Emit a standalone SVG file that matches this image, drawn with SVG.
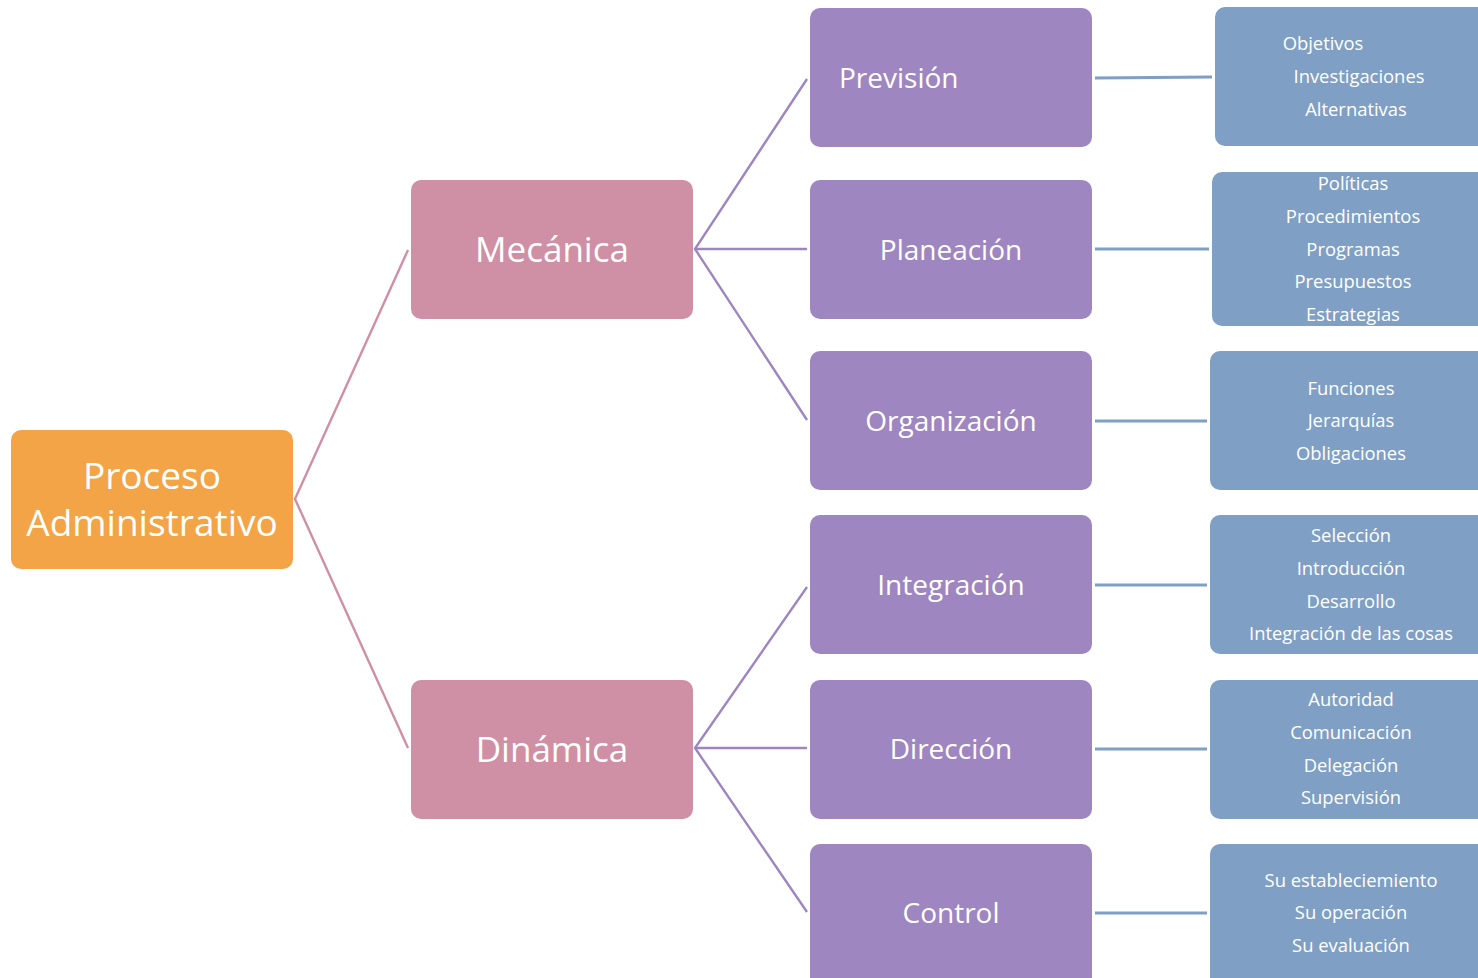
<svg xmlns="http://www.w3.org/2000/svg" width="1478" height="978" viewBox="0 0 1478 978">
  <style>
    .root { fill: #F2A446; }
    .lvl1 { fill: #CF8FA5; }
    .lvl2 { fill: #9E86C1; }
    .lvl3 { fill: #7F9FC4; }
    text { font-family: "Open Sans", "Noto Sans", sans-serif; fill: #FFFFFF; text-anchor: middle; }
    .t0 { font-size: 37px; }
    .t1 { font-size: 35px; }
    .t2 { font-size: 28px; }
    .t3 { font-size: 18.4px; }
    .c-pink { stroke: #CF8FA5; stroke-width: 2.4; fill: none; }
    .c-purple { stroke: #9E86C1; stroke-width: 2.4; fill: none; }
    .c-blue { stroke: #7F9FC4; stroke-width: 3; fill: none; }
  </style>
  <rect width="1478" height="978" fill="#FFFFFF"/>

  <g id="connectors">
    <polyline class="c-pink" points="408,250 295,499 408,748"/>
    <polyline class="c-purple" points="807,79 695,249 807,420"/>
    <line class="c-purple" x1="695" y1="249" x2="807" y2="249"/>
    <polyline class="c-purple" points="807,587 695,748 807,912"/>
    <line class="c-purple" x1="695" y1="748" x2="807" y2="748"/>
    <line class="c-blue" x1="1095" y1="78" x2="1212" y2="77"/>
    <line class="c-blue" x1="1095" y1="249" x2="1209" y2="249"/>
    <line class="c-blue" x1="1095" y1="421" x2="1207" y2="421"/>
    <line class="c-blue" x1="1095" y1="585" x2="1207" y2="585"/>
    <line class="c-blue" x1="1095" y1="749" x2="1207" y2="749"/>
    <line class="c-blue" x1="1095" y1="913" x2="1207" y2="913"/>
  </g>

  <g id="proceso-administrativo">
    <rect class="root" x="11" y="430" width="282" height="139" rx="10"/>
    <text class="t0" x="152" y="489">Proceso</text>
    <text class="t0" x="152" y="536">Administrativo</text>
  </g>

  <g id="mecanica">
    <rect class="lvl1" x="411" y="180" width="282" height="139" rx="10"/>
    <text class="t1" x="552" y="262">Mecánica</text>
  </g>
  <g id="dinamica">
    <rect class="lvl1" x="411" y="680" width="282" height="139" rx="10"/>
    <text class="t1" x="552" y="762">Dinámica</text>
  </g>

  <g id="prevision">
    <rect class="lvl2" x="810" y="8" width="282" height="139" rx="10"/>
    <text class="t2" x="839" y="88" style="text-anchor:start">Previsión</text>
  </g>
  <g id="planeacion">
    <rect class="lvl2" x="810" y="180" width="282" height="139" rx="10"/>
    <text class="t2" x="951" y="260">Planeación</text>
  </g>
  <g id="organizacion">
    <rect class="lvl2" x="810" y="351" width="282" height="139" rx="10"/>
    <text class="t2" x="951" y="431">Organización</text>
  </g>
  <g id="integracion">
    <rect class="lvl2" x="810" y="515" width="282" height="139" rx="10"/>
    <text class="t2" x="951" y="595">Integración</text>
  </g>
  <g id="direccion">
    <rect class="lvl2" x="810" y="680" width="282" height="139" rx="10"/>
    <text class="t2" x="951" y="759">Dirección</text>
  </g>
  <g id="control">
    <rect class="lvl2" x="810" y="844" width="282" height="150" rx="10"/>
    <text class="t2" x="951" y="923">Control</text>
  </g>

  <g id="prevision-detalle">
    <rect class="lvl3" x="1215" y="7" width="280" height="139" rx="10"/>
    <text class="t3" x="1323" y="50">Objetivos</text>
    <text class="t3" x="1359" y="83">Investigaciones</text>
    <text class="t3" x="1356" y="116">Alternativas</text>
  </g>
  <g id="planeacion-detalle">
    <rect class="lvl3" x="1212" y="172" width="280" height="154" rx="10"/>
    <text class="t3" x="1353" y="190">Políticas</text>
    <text class="t3" x="1353" y="223">Procedimientos</text>
    <text class="t3" x="1353" y="256">Programas</text>
    <text class="t3" x="1353" y="288">Presupuestos</text>
    <text class="t3" x="1353" y="321">Estrategias</text>
  </g>
  <g id="organizacion-detalle">
    <rect class="lvl3" x="1210" y="351" width="280" height="139" rx="10"/>
    <text class="t3" x="1351" y="395">Funciones</text>
    <text class="t3" x="1351" y="427">Jerarquías</text>
    <text class="t3" x="1351" y="460">Obligaciones</text>
  </g>
  <g id="integracion-detalle">
    <rect class="lvl3" x="1210" y="515" width="280" height="139" rx="10"/>
    <text class="t3" x="1351" y="542">Selección</text>
    <text class="t3" x="1351" y="575">Introducción</text>
    <text class="t3" x="1351" y="608">Desarrollo</text>
    <text class="t3" x="1351" y="640">Integración de las cosas</text>
  </g>
  <g id="direccion-detalle">
    <rect class="lvl3" x="1210" y="680" width="280" height="139" rx="10"/>
    <text class="t3" x="1351" y="706">Autoridad</text>
    <text class="t3" x="1351" y="739">Comunicación</text>
    <text class="t3" x="1351" y="772">Delegación</text>
    <text class="t3" x="1351" y="804">Supervisión</text>
  </g>
  <g id="control-detalle">
    <rect class="lvl3" x="1210" y="844" width="280" height="150" rx="10"/>
    <text class="t3" x="1351" y="887">Su estableciemiento</text>
    <text class="t3" x="1351" y="919">Su operación</text>
    <text class="t3" x="1351" y="952">Su evaluación</text>
  </g>
</svg>
